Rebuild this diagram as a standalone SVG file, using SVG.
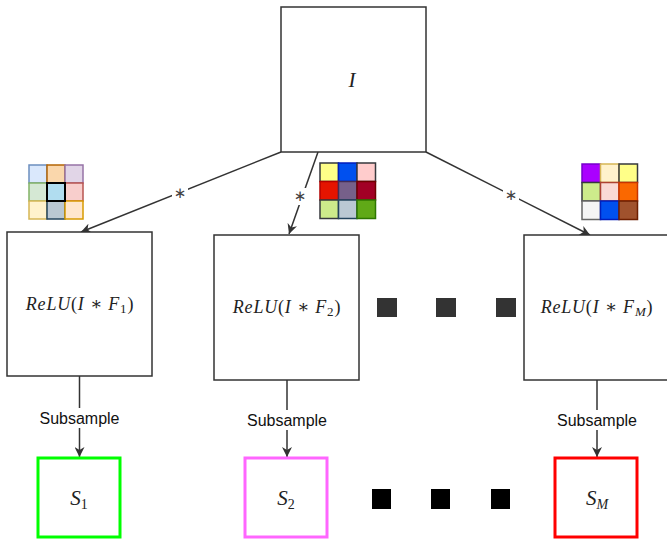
<svg xmlns="http://www.w3.org/2000/svg" width="667" height="540" viewBox="0 0 667 540">
<style>
.box{fill:#fff;stroke:#333;stroke-width:1.5}
.edge{fill:none;stroke:#333;stroke-width:1.5}
.math{font-family:"Liberation Serif","DejaVu Serif",serif;font-style:italic;fill:#222}
.relu{font-size:18px;letter-spacing:0.8px;text-anchor:middle}
.up{font-style:normal}
.lbl{font-family:"Liberation Sans",Arial,sans-serif;font-size:16px;fill:#111;text-anchor:middle}
.star{font-family:"DejaVu Sans",sans-serif;font-size:15px;fill:#444;text-anchor:middle}
.dot{fill:#333}
.bdot{fill:#000}
</style>
<defs>
<marker id="arr" markerWidth="12" markerHeight="10" refX="10" refY="5" orient="auto" markerUnits="userSpaceOnUse">
<path d="M0,0 L10,5 L0,10 L3,5 z" fill="#333"/>
</marker>
</defs>
<g id="connectors">
<line class="edge" x1="281" y1="152" x2="81" y2="232" marker-end="url(#arr)"/>
<line class="edge" x1="318" y1="152" x2="289" y2="234" marker-end="url(#arr)"/>
<line class="edge" x1="426" y1="152" x2="590" y2="235" marker-end="url(#arr)"/>
<rect x="172" y="185" width="16" height="16" fill="#fff"/>
<text class="star" x="180" y="198">∗</text>
<rect x="292" y="188" width="16" height="17" fill="#fff"/>
<text class="star" x="300" y="201">∗</text>
<rect x="503" y="187" width="16" height="16" fill="#fff"/>
<text class="star" x="511" y="200">∗</text>
<line class="edge" x1="79.5" y1="376" x2="79.5" y2="457" marker-end="url(#arr)"/>
<line class="edge" x1="287" y1="380" x2="287" y2="457" marker-end="url(#arr)"/>
<line class="edge" x1="597" y1="380" x2="597" y2="457" marker-end="url(#arr)"/>
<rect x="38" y="408" width="84" height="20" fill="#fff"/>
<text class="lbl" x="79.5" y="424">Subsample</text>
<rect x="245" y="410" width="84" height="20" fill="#fff"/>
<text class="lbl" x="287" y="426">Subsample</text>
<rect x="555" y="410" width="84" height="20" fill="#fff"/>
<text class="lbl" x="597" y="426">Subsample</text>
</g>
<g id="input">
<rect class="box" x="281" y="7" width="145" height="145"/>
<text class="math" x="352" y="87" font-size="21" text-anchor="middle">I</text>
</g>
<g id="relu1">
<rect class="box" x="7" y="232" width="145" height="144"/>
<text class="math relu" x="80" y="310">ReLU<tspan class="up">(</tspan>I <tspan class="up">∗</tspan> F<tspan class="up" font-size="13" dy="3">1</tspan><tspan class="up" dy="-3">)</tspan></text>
</g>
<g id="relu2">
<rect class="box" x="214" y="235" width="145" height="145"/>
<text class="math relu" x="287" y="313">ReLU<tspan class="up">(</tspan>I <tspan class="up">∗</tspan> F<tspan class="up" font-size="13" dy="3">2</tspan><tspan class="up" dy="-3">)</tspan></text>
</g>
<g id="reluM">
<rect class="box" x="524" y="235" width="145" height="145"/>
<text class="math relu" x="597" y="313">ReLU<tspan class="up">(</tspan>I <tspan class="up">∗</tspan> F<tspan font-size="13" dy="3">M</tspan><tspan class="up" dy="-3">)</tspan></text>
</g>
<g id="filter1" stroke-width="1.5">
<rect x="29" y="165" width="18" height="18" fill="#dae8fc" stroke="#6c8ebf"/>
<rect x="47" y="165" width="18" height="18" fill="#fad7ac" stroke="#b46504"/>
<rect x="65" y="165" width="18" height="18" fill="#e1d5e7" stroke="#9673a6"/>
<rect x="29" y="183" width="18" height="18" fill="#d5e8d4" stroke="#82b366"/>
<rect x="65" y="183" width="18" height="18" fill="#f8cecc" stroke="#b85450"/>
<rect x="29" y="201" width="18" height="18" fill="#fff2cc" stroke="#d6b656"/>
<rect x="47" y="201" width="18" height="18" fill="#bac8d3" stroke="#23445d"/>
<rect x="65" y="201" width="18" height="18" fill="#ffe6cc" stroke="#d79b00"/>
<rect x="47" y="183" width="18" height="18" fill="#b1ddf0" stroke="#000" stroke-width="2"/>
</g>
<g id="filter2" stroke-width="1.5">
<rect x="320" y="163" width="18.5" height="18.5" fill="#ffff88" stroke="#36393d"/>
<rect x="338.5" y="163" width="18.5" height="18.5" fill="#0050ef" stroke="#001dbc"/>
<rect x="357" y="163" width="18.5" height="18.5" fill="#ffcccc" stroke="#36393d"/>
<rect x="320" y="181.5" width="18.5" height="18.5" fill="#e51400" stroke="#b20000"/>
<rect x="338.5" y="181.5" width="18.5" height="18.5" fill="#76608a" stroke="#432d57"/>
<rect x="357" y="181.5" width="18.5" height="18.5" fill="#a20025" stroke="#6f0000"/>
<rect x="320" y="200" width="18.5" height="18.5" fill="#cdeb8b" stroke="#36393d"/>
<rect x="338.5" y="200" width="18.5" height="18.5" fill="#bac8d3" stroke="#23445d"/>
<rect x="357" y="200" width="18.5" height="18.5" fill="#60a917" stroke="#2d7600"/>
</g>
<g id="filterM" stroke-width="1.5">
<rect x="582" y="164" width="18.5" height="18.5" fill="#aa00ff" stroke="#7700cc"/>
<rect x="600.5" y="164" width="18.5" height="18.5" fill="#fff2cc" stroke="#d6b656"/>
<rect x="619" y="164" width="18.5" height="18.5" fill="#ffff88" stroke="#36393d"/>
<rect x="582" y="182.5" width="18.5" height="18.5" fill="#cdeb8b" stroke="#36393d"/>
<rect x="600.5" y="182.5" width="18.5" height="18.5" fill="#fad9d5" stroke="#ae4132"/>
<rect x="619" y="182.5" width="18.5" height="18.5" fill="#fa6800" stroke="#c73500"/>
<rect x="582" y="201" width="18.5" height="18.5" fill="#f5f5f5" stroke="#666666"/>
<rect x="600.5" y="201" width="18.5" height="18.5" fill="#0050ef" stroke="#001dbc"/>
<rect x="619" y="201" width="18.5" height="18.5" fill="#a0522d" stroke="#6d1f00"/>
</g>
<g id="dots-mid">
<rect class="dot" x="377" y="298" width="20" height="19"/>
<rect class="dot" x="436" y="298" width="20" height="19"/>
<rect class="dot" x="496" y="298" width="20" height="19"/>
</g>
<g id="s1">
<rect x="38" y="458" width="82" height="79" fill="#fff" stroke="#00ff00" stroke-width="3"/>
<text class="math" x="79" y="505" font-size="21" text-anchor="middle">S<tspan class="up" font-size="14" dy="4">1</tspan></text>
</g>
<g id="s2">
<rect x="245" y="458" width="82" height="79" fill="#fff" stroke="#ff66ff" stroke-width="3"/>
<text class="math" x="286" y="505" font-size="21" text-anchor="middle">S<tspan class="up" font-size="14" dy="4">2</tspan></text>
</g>
<g id="sM">
<rect x="555" y="458" width="82" height="79" fill="#fff" stroke="#ff0000" stroke-width="3"/>
<text class="math" x="597" y="505" font-size="21" text-anchor="middle">S<tspan font-size="14" dy="4">M</tspan></text>
</g>
<g id="dots-bottom">
<rect class="bdot" x="372" y="489" width="19" height="20"/>
<rect class="bdot" x="431" y="489" width="19" height="20"/>
<rect class="bdot" x="491" y="489" width="19" height="20"/>
</g>
</svg>
